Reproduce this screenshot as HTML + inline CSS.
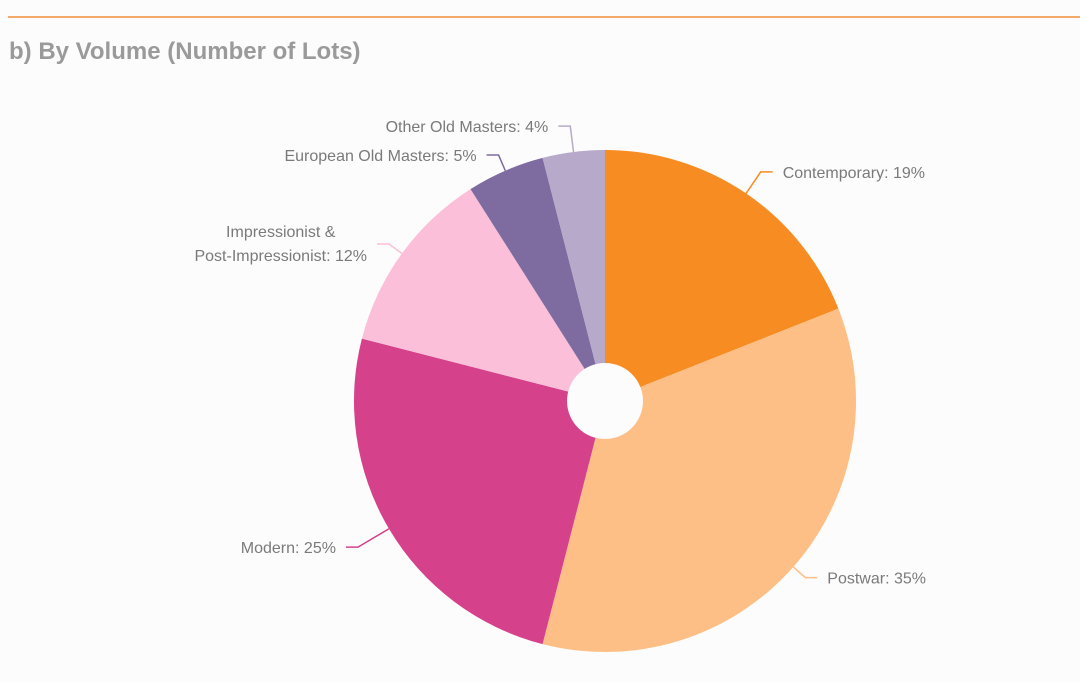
<!DOCTYPE html>
<html><head><meta charset="utf-8"><style>
body{margin:0;background:#fcfcfc;width:1080px;height:677px;overflow:hidden;font-family:"Liberation Sans",sans-serif}
</style></head><body>
<svg width="1080" height="677">
<line x1="8" y1="17" x2="1080" y2="17" stroke="#f3a96a" stroke-width="2"/>
<text x="9" y="59" font-size="24" font-weight="bold" fill="#9a9a9a">b) By Volume (Number of Lots)</text>
<g id="pie"></g>
</svg>
<script>
const categories=["Contemporary","Postwar","Modern","Impressionist & Post-Impressionist","European Old Masters","Other Old Masters"];
const values=[19,35,25,12,5,4];
const colors=["#f78c23","#fdbf85","#d6418b","#fcbfd9","#7e6ba0","#b7a9c9"];
const elbowOffsets=[26,16,36,16,17,26];
const cx=605,cy=401,R=251,r0=38;
const g=document.getElementById('pie');
const NS='http://www.w3.org/2000/svg';
const total=values.reduce((a,b)=>a+b,0);
function pt(a,rad){return [cx+rad*Math.sin(a),cy-rad*Math.cos(a)];}
function mkText(x,y,anchor,s){
 const t=document.createElementNS(NS,'text');
 t.setAttribute('x',x);t.setAttribute('y',y);
 t.setAttribute('text-anchor',anchor);t.setAttribute('font-size','16');t.setAttribute('fill','#7a7a7a');
 
 
 t.textContent=s;g.appendChild(t);return t;
}
let acc=0;
values.forEach((v,i)=>{
 const a0=acc/total*2*Math.PI;acc+=v;const a1=acc/total*2*Math.PI;
 const p0=pt(a0,R),p1=pt(a1,R),large=(a1-a0)>Math.PI?1:0;
 const p=document.createElementNS(NS,'path');
 p.setAttribute('d',`M${cx},${cy}L${p0[0]},${p0[1]}A${R},${R} 0 ${large} 1 ${p1[0]},${p1[1]}Z`);
 p.setAttribute('fill',colors[i]);
 
 
 g.appendChild(p);
 const am=(a0+a1)/2,e=pt(am,R),k=pt(am,R+elbowOffsets[i]),right=Math.sin(am)>=0;
 const hx=k[0]+(right?12:-12);
 const l=document.createElementNS(NS,'path');
 l.setAttribute('d',`M${e[0]},${e[1]}L${k[0]},${k[1]}L${hx},${k[1]}`);
 l.setAttribute('stroke',colors[i]);l.setAttribute('fill','none');l.setAttribute('stroke-width','1.5');
 
 
 g.appendChild(l);
 const tx=hx+(right?10:-10);
 if(categories[i].includes('&')){
  const t2=mkText(tx,k[1]+17,'end','Post-Impressionist: '+v+'%');
  const w=t2.getComputedTextLength();
  mkText(tx-w/2,k[1]-7,'middle','Impressionist &');
 } else mkText(tx,k[1]+6,right?'start':'end',categories[i]+': '+v+'%');
});
const h=document.createElementNS(NS,'circle');
h.setAttribute('cx',cx);h.setAttribute('cy',cy);h.setAttribute('r',r0);h.setAttribute('fill','#fcfcfc');


g.appendChild(h);
</script>
</body></html>
